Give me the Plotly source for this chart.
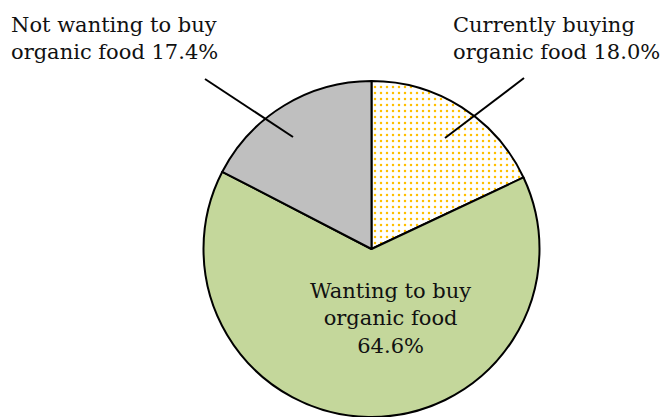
import plotly.graph_objects as go

# Survey shares of consumers by attitude to organic food (%)
categories = ["Currently buying organic food", "Wanting to buy organic food", "Not wanting to buy organic food"]
shares = [18.0, 64.6, 17.4]

slice_colors = ["#FFFFFF", "#C4D79B", "#BFBFBF"]
pattern_shapes = [".", "", ""]

W, H = 662, 417
FONT = "DejaVu Serif"

fig = go.Figure(
    go.Pie(
        labels=categories,
        values=shares,
        sort=False,
        direction="clockwise",
        rotation=0,
        textinfo="none",
        hoverinfo="label+percent",
        marker=dict(
            colors=slice_colors,
            line=dict(color="#000000", width=2),
            pattern=dict(shape=pattern_shapes, fgcolor="#FFC000", bgcolor="#FFFFFF",
                         size=6, solidity=0.14),
        ),
        domain=dict(x=[203.5 / W, 539.5 / W], y=[0, 336 / H]),
        showlegend=False,
    )
)

def px(x, y):
    """Convert pixel position (from top-left) to paper coordinates."""
    return x / W, 1 - y / H

# leader lines from the outside labels into their slices
leaders = [((205, 79), (293, 137)), ((524, 78), (445, 138))]
shapes = []
for (x0, y0), (x1, y1) in leaders:
    a = px(x0, y0)
    b = px(x1, y1)
    shapes.append(dict(type="line", xref="paper", yref="paper",
                       x0=a[0], y0=a[1], x1=b[0], y1=b[1],
                       line=dict(color="#000000", width=2)))

label_texts = [
    f"Currently buying<br>organic food {shares[0]:.1f}%",
    f"Wanting to buy<br>organic food<br>{shares[1]:.1f}%",
    f"Not wanting to buy<br>organic food {shares[2]:.1f}%",
]

annotations = []
x, y = px(451, 39)
annotations.append(dict(text=label_texts[0], x=x, y=y, xanchor="left", yanchor="middle", align="left"))
x, y = px(390, 318)
annotations.append(dict(text=label_texts[1], x=x, y=y, xanchor="center", yanchor="middle", align="center"))
x, y = px(9, 39)
annotations.append(dict(text=label_texts[2], x=x, y=y, xanchor="left", yanchor="middle", align="left"))
for a in annotations:
    a.update(xref="paper", yref="paper", showarrow=False,
             font=dict(family=FONT, size=21, color="#111111"))

fig.update_layout(
    width=W, height=H,
    margin=dict(l=0, r=0, t=0, b=0),
    paper_bgcolor="#FFFFFF",
    plot_bgcolor="#FFFFFF",
    shapes=shapes,
    annotations=annotations,
)

fig.write_html("out.html")
